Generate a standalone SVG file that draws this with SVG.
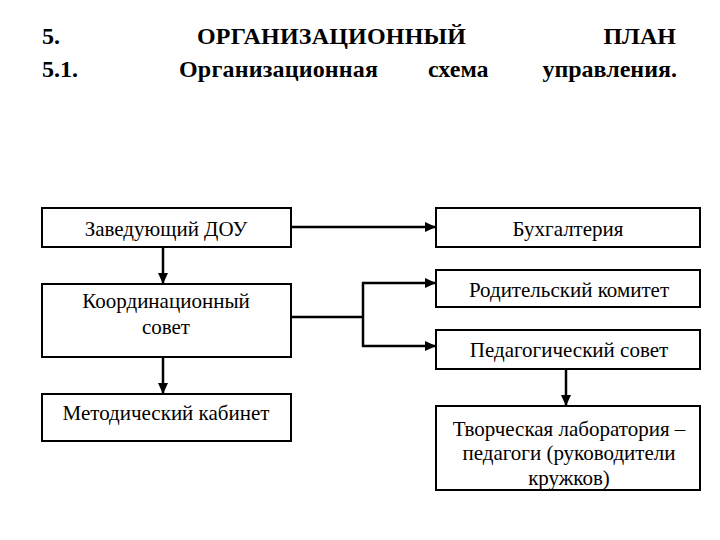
<svg xmlns="http://www.w3.org/2000/svg" width="720" height="540" viewBox="0 0 720 540">
<style>
.title{font-weight:bold;font-size:24px;fill:#000}
.box{fill:#fff;stroke:#000;stroke-width:2}
.lbl{font-size:21px;fill:#000;text-anchor:middle}
.con{fill:none;stroke:#000;stroke-width:2.5}
</style>
<defs>
<marker id="arr" markerUnits="userSpaceOnUse" markerWidth="12" markerHeight="10" refX="11" refY="5" orient="auto">
<path d="M0,0 L11,5 L0,10 Z" fill="#000"/>
</marker>
<clipPath id="clipT"><rect x="436" y="406" width="264" height="83"/></clipPath>
</defs>
<rect width="720" height="540" fill="#fff"/>
<g id="title" font-family="Liberation Serif, Times New Roman, serif">
<text class="title" x="42" y="44">5.</text>
<text class="title" x="197" y="44" textLength="269">ОРГАНИЗАЦИОННЫЙ</text>
<text class="title" x="676" y="44" text-anchor="end">ПЛАН</text>
<text class="title" x="42" y="77">5.1.</text>
<text class="title" x="179" y="77" textLength="199">Организационная</text>
<text class="title" x="428" y="77">схема</text>
<text class="title" x="677" y="77" text-anchor="end">управления.</text>
</g>
<g id="connectors">
<path class="con" d="M291,227 H436" marker-end="url(#arr)"/>
<path class="con" d="M163,247 V284" marker-end="url(#arr)"/>
<path class="con" d="M163,357 V394" marker-end="url(#arr)"/>
<path class="con" d="M566,369 V406" marker-end="url(#arr)"/>
<path class="con" d="M291,317 H363"/>
<path class="con" d="M363,282 V347"/>
<path class="con" stroke-width="3" d="M362,283 H436" marker-end="url(#arr)"/>
<path class="con" d="M362,346 H436" marker-end="url(#arr)"/>
</g>
<g font-family="Liberation Serif, Times New Roman, serif">
<g id="zaveduyushchiy">
<rect class="box" x="42" y="208" width="249" height="39"/>
<text class="lbl" x="166" y="236">Заведующий ДОУ</text>
</g>
<g id="buhgalteriya">
<rect class="box" x="436" y="208" width="264" height="39"/>
<text class="lbl" x="568" y="236">Бухгалтерия</text>
</g>
<g id="koordinacionnyy">
<rect class="box" x="42" y="284" width="249" height="73"/>
<text class="lbl" x="166" y="308">Координационный</text>
<text class="lbl" x="166" y="334">совет</text>
</g>
<g id="roditelskiy">
<rect class="box" x="436" y="270" width="264" height="37"/>
<text class="lbl" x="569" y="297">Родительский комитет</text>
</g>
<g id="pedsovet">
<rect class="box" x="436" y="330" width="264" height="39"/>
<text class="lbl" x="569" y="357">Педагогический совет</text>
</g>
<g id="metodkabinet">
<rect class="box" x="42" y="394" width="249" height="47"/>
<text class="lbl" x="166" y="420">Методический кабинет</text>
</g>
<g id="tvorcheskaya">
<rect class="box" x="436" y="406" width="264" height="84"/>
<g clip-path="url(#clipT)">
<text class="lbl" x="569" y="436">Творческая лаборатория –</text>
<text class="lbl" x="569" y="460">педагоги (руководители</text>
<text class="lbl" x="569" y="485">кружков)</text>
</g>
</g>
</g>
</svg>
